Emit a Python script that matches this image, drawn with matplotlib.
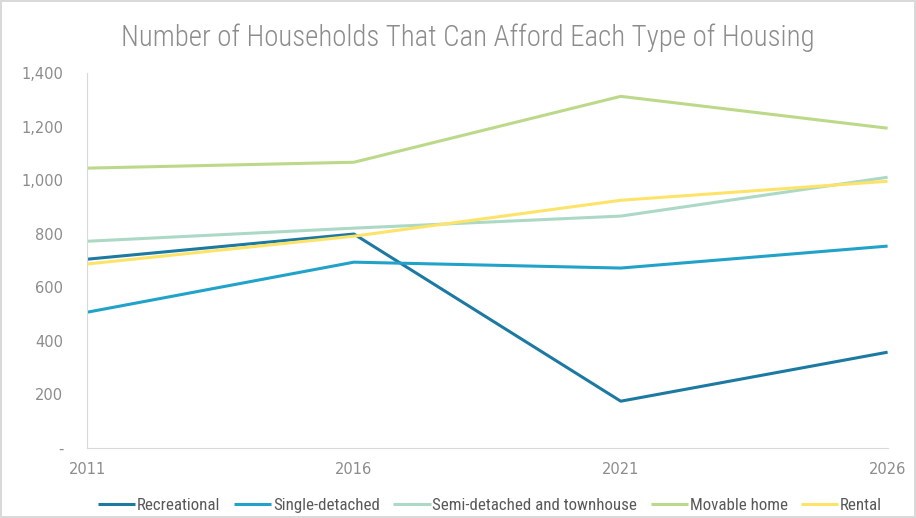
import matplotlib.pyplot as plt
from matplotlib.ticker import FuncFormatter

years = [2011, 2016, 2021, 2026]
recreational = [705, 799, 175, 358]
single_detached = [507, 694, 672, 754]
semi_detached = [772, 821, 866, 1011]
movable_home = [1045, 1067, 1313, 1194]
rental = [687, 791, 925, 996]

series = [
	("Recreational", recreational, "#1c7aa2"),
	("Single-detached", single_detached, "#21a2c9"),
	("Semi-detached and townhouse", semi_detached, "#acd9c6"),
	("Movable home", movable_home, "#bcd98a"),
	("Rental", rental, "#fde468"),
]

narrow = ['Roboto Condensed', 'DejaVu Sans']
plt.rcParams['font.family'] = ['DejaVu Sans']
grey = "#8c8c8c"

fig = plt.figure(figsize=(9.16, 5.18), dpi=100)
fig.patch.set_edgecolor("#d9d9d9")
fig.patch.set_linewidth(1.5)
ax = fig.add_axes([0.095, 0.135, 0.874, 0.724])

for name, vals, col in series:
	ax.plot(years, vals, color=col, lw=2.2, label=name, solid_capstyle="butt")

ax.set_xlim(2011, 2026)
ax.set_ylim(0, 1400)
ax.set_xticks(years)
ax.set_yticks(range(0, 1401, 200))
ax.yaxis.set_major_formatter(FuncFormatter(lambda v, p: "-" if v == 0 else f"{int(v):,}"))
ax.tick_params(length=0, colors=grey, labelsize=10.5)
ax.tick_params(axis="x", pad=10)
ax.tick_params(axis="y", pad=17)

for s in ["top", "right"]:
	ax.spines[s].set_visible(False)
ax.spines["left"].set_color("#d9d9d9")
ax.spines["bottom"].set_color("#d9d9d9")

fig.text(0.511, 0.927, "Number of Households That Can Afford Each Type of Housing",
	ha="center", va="center", fontsize=20.8, color=grey, family=narrow, fontweight="light")

leg = fig.legend(loc="center", bbox_to_anchor=(0.535, 0.025), ncol=5, frameon=False,
	prop={'family': narrow, 'size': 12.2}, handlelength=2.2, handletextpad=0.1,
	columnspacing=0.8)
for t in leg.get_texts():
	t.set_color("#595959")

fig.savefig("out.png", dpi=100)
